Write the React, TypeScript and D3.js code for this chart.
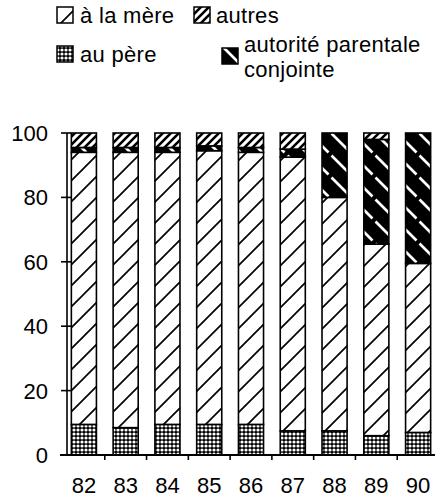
import * as d3 from 'd3';
import { useEffect, useRef } from 'react';

const width = 435;
const height = 500;

const years = ['82', '83', '84', '85', '86', '87', '88', '89', '90'];
const pere = [9.5, 8.5, 9.5, 9.5, 9.5, 7.5, 7.5, 6, 7];
const mere = [84.5, 85.5, 84.5, 85, 84.5, 85, 72.5, 59.5, 52.5];
const conjointe = [1.5, 1.5, 1.5, 1.5, 1.5, 2.5, 20, 32.5, 40.5];
const autres = [4.5, 4.5, 4.5, 4, 4.5, 5, 0, 2, 0];
const yTicks = [0, 20, 40, 60, 80, 100];

const keys = ['pere', 'mere', 'conjointe', 'autres'];
const fills = {
  pere: 'url(#pat-pere)',
  mere: 'url(#pat-mere)',
  conjointe: 'url(#pat-conj)',
  autres: 'url(#pat-autres)',
};

const font = '"Liberation Sans", Arial, Helvetica, sans-serif';

export default function App() {
  const ref = useRef<SVGSVGElement>(null);

  useEffect(() => {
    const svg = d3.select(ref.current);
    svg.selectAll('*').remove();

    const rows = years.map((year, i) => ({
      year,
      pere: pere[i],
      mere: mere[i],
      conjointe: conjointe[i],
      autres: autres[i],
    }));

    const x = d3
      .scaleBand()
      .domain(years)
      .range([63, 439])
      .paddingInner(0.4)
      .paddingOuter(0.2);
    const y = d3.scaleLinear().domain([0, 100]).range([455, 133]);

    // patterns
    const defs = svg.append('defs');

    const pMere = defs
      .append('pattern')
      .attr('id', 'pat-mere')
      .attr('patternUnits', 'userSpaceOnUse')
      .attr('width', 21)
      .attr('height', 21);
    pMere.append('rect').attr('width', 21).attr('height', 21).attr('fill', '#fff');
    pMere
      .append('path')
      .attr('d', 'M-2,23 L23,-2 M-12,12 L12,-12 M9,33 L33,9')
      .attr('stroke', '#000')
      .attr('stroke-width', 1.7);

    const pAutres = defs
      .append('pattern')
      .attr('id', 'pat-autres')
      .attr('patternUnits', 'userSpaceOnUse')
      .attr('width', 8)
      .attr('height', 8);
    pAutres.append('rect').attr('width', 8).attr('height', 8).attr('fill', '#fff');
    pAutres
      .append('path')
      .attr('d', 'M-2,10 L10,-2 M-6,6 L6,-6 M2,14 L14,2')
      .attr('stroke', '#000')
      .attr('stroke-width', 2.6);

    const pPere = defs
      .append('pattern')
      .attr('id', 'pat-pere')
      .attr('patternUnits', 'userSpaceOnUse')
      .attr('width', 4)
      .attr('height', 4);
    pPere.append('rect').attr('width', 4).attr('height', 4).attr('fill', '#000');
    pPere.append('circle').attr('cx', 2).attr('cy', 2).attr('r', 1.6).attr('fill', '#fff');

    const pConj = defs
      .append('pattern')
      .attr('id', 'pat-conj')
      .attr('patternUnits', 'userSpaceOnUse')
      .attr('width', 22)
      .attr('height', 22);
    pConj.append('rect').attr('width', 22).attr('height', 22).attr('fill', '#000');
    pConj
      .append('path')
      .attr('d', 'M1.5,1.5 L20.5,20.5')
      .attr('stroke', '#fff')
      .attr('stroke-width', 2.6);

    // bars
    const series = d3.stack().keys(keys)(rows as any);
    const g = svg.append('g');
    series.forEach((s) => {
      g.append('g')
        .selectAll('rect')
        .data(s)
        .join('rect')
        .attr('x', (d: any) => x(d.data.year))
        .attr('y', (d) => y(d[1]))
        .attr('width', x.bandwidth())
        .attr('height', (d) => Math.max(0, y(d[0]) - y(d[1])))
        .attr('fill', fills[s.key])
        .attr('stroke', '#000')
        .attr('stroke-width', (d) => (d[1] - d[0] > 0 ? 1.6 : 0));
    });

    // y axis
    const axis = svg.append('g').attr('stroke', '#000');
    axis
      .append('line')
      .attr('x1', 67)
      .attr('x2', 67)
      .attr('y1', y(100))
      .attr('y2', y(0))
      .attr('stroke-width', 1.6);
    axis
      .selectAll('line.tick')
      .data(yTicks)
      .join('line')
      .attr('class', 'tick')
      .attr('x1', 61)
      .attr('x2', 71)
      .attr('y1', (d) => y(d))
      .attr('y2', (d) => y(d))
      .attr('stroke-width', 1.6);

    svg
      .append('g')
      .selectAll('text')
      .data(yTicks)
      .join('text')
      .attr('x', 48)
      .attr('y', (d) => y(d) + 8)
      .attr('text-anchor', 'end')
      .attr('font-family', font)
      .attr('font-size', 22)
      .text((d) => d);

    // x axis
    axis
      .append('line')
      .attr('x1', 60)
      .attr('x2', 437)
      .attr('y1', y(0))
      .attr('y2', y(0))
      .attr('stroke-width', 1.8);
    axis
      .selectAll('line.xtick')
      .data(years.slice(1))
      .join('line')
      .attr('class', 'xtick')
      .attr('x1', (d) => x(d) - (x.step() - x.bandwidth()) / 2)
      .attr('x2', (d) => x(d) - (x.step() - x.bandwidth()) / 2)
      .attr('y1', y(0))
      .attr('y2', y(0) + 5)
      .attr('stroke-width', 1.6);

    svg
      .append('g')
      .selectAll('text')
      .data(years)
      .join('text')
      .attr('x', (d) => x(d) + x.bandwidth() / 2)
      .attr('y', 493)
      .attr('text-anchor', 'middle')
      .attr('font-family', font)
      .attr('font-size', 22)
      .text((d) => d);

    // legend
    const legend = [
      { key: 'mere', label: ['à la mère'], bx: 57, by: 7, tx: 80, ty: 23 },
      { key: 'autres', label: ['autres'], bx: 194, by: 7, tx: 216, ty: 23 },
      { key: 'pere', label: ['au père'], bx: 57, by: 46, tx: 80, ty: 62 },
      {
        key: 'conjointe',
        label: ['autorité parentale', 'conjointe'],
        bx: 222,
        by: 48,
        tx: 244,
        ty: 52,
      },
    ];
    const lg = svg.append('g');
    legend.forEach((l) => {
      lg.append('rect')
        .attr('x', l.bx)
        .attr('y', l.by)
        .attr('width', 16)
        .attr('height', 16)
        .attr('fill', fills[l.key])
        .attr('stroke', '#000')
        .attr('stroke-width', 1.5);
      const t = lg
        .append('text')
        .attr('x', l.tx)
        .attr('y', l.ty)
        .attr('font-family', font)
        .attr('font-size', 22)
        .attr('letter-spacing', 0.3);
      l.label.forEach((line, i) => {
        t.append('tspan')
          .attr('x', l.tx)
          .attr('dy', i === 0 ? 0 : 25)
          .text(line);
      });
    });
  }, []);

  return (
    <svg
      ref={ref}
      width={width}
      height={height}
      style={{ position: 'absolute', left: 0, top: 0, background: '#fff' }}
    />
  );
}
